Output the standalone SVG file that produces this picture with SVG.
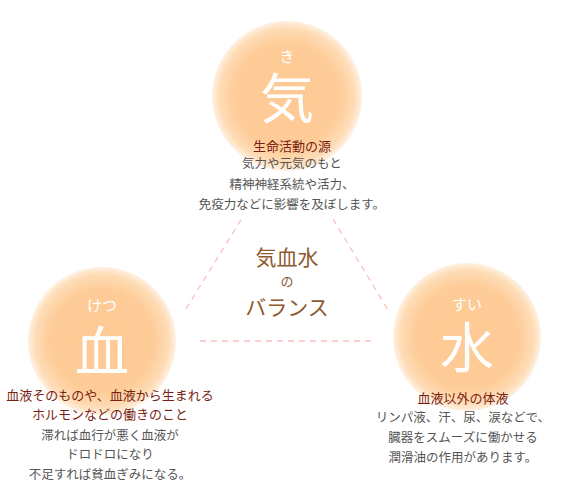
<svg xmlns="http://www.w3.org/2000/svg" width="568" height="500" viewBox="0 0 568 500">
<defs>
<radialGradient id="g" cx="0.5" cy="0.5" r="0.5">
<stop offset="0" stop-color="#fec995"/>
<stop offset="0.7" stop-color="#fecc98"/>
<stop offset="0.9" stop-color="#fedcb6"/>
<stop offset="1" stop-color="#fff1e2"/>
</radialGradient>
</defs>
<style>
.c{fill:url(#g)}
.k{font-family:"Noto Sans CJK JP","Noto Sans CJK SC",sans-serif;text-anchor:middle}
.ruby{fill:#fff;font-size:15px}
.big{fill:#fff;font-size:54px}
.h{fill:#7a1f12;font-size:13px}
.t{fill:#555;font-size:12.5px}
.m{fill:#8c5a2e}
.d{stroke:#fcc0c0;stroke-width:1.3;stroke-dasharray:6 5;fill:none}
</style>
<g id="connectors">
<line class="d" x1="186" y1="309" x2="242" y2="218"/>
<line class="d" x1="333" y1="219" x2="388" y2="310"/>
<line class="d" x1="200" y1="341" x2="374" y2="341"/>
</g>
<g id="ki">
<circle class="c" cx="287" cy="96" r="75"/>
<text class="k ruby" x="287" y="62">き</text>
<text class="k big" x="287" y="119">気</text>
<text class="k h" x="292" y="151">生命活動の源</text>
<text class="k t" x="292" y="168">気力や元気のもと</text>
<text class="k t" x="292" y="189">精神神経系統や活力、</text>
<text class="k t" x="292" y="209">免疫力などに影響を及ぼします。</text>
</g>
<g id="ketsu">
<circle class="c" cx="102" cy="341" r="74"/>
<text class="k ruby" x="102" y="311">けつ</text>
<text class="k big" x="102" y="372">血</text>
<text class="k h" x="110" y="400">血液そのものや、血液から生まれる</text>
<text class="k h" x="110" y="419">ホルモンなどの働きのこと</text>
<text class="k t" x="110" y="440">滞れば血行が悪く血液が</text>
<text class="k t" x="110" y="459">ドロドロになり</text>
<text class="k t" x="110" y="479">不足すれば貧血ぎみになる。</text>
</g>
<g id="sui">
<circle class="c" cx="467" cy="337" r="74"/>
<text class="k ruby" x="467" y="310">すい</text>
<text class="k big" x="467" y="368">水</text>
<text class="k h" x="463" y="403">血液以外の体液</text>
<text class="k t" x="463" y="422">リンパ液、汗、尿、涙などで、</text>
<text class="k t" x="463" y="442">臓器をスムーズに働かせる</text>
<text class="k t" x="463" y="462">潤滑油の作用があります。</text>
</g>
<g id="center">
<text class="k m" x="287" y="265" font-size="21">気血水</text>
<text class="k m" x="287" y="286" font-size="13">の</text>
<text class="k m" x="287" y="315" font-size="21">バランス</text>
</g>
</svg>
